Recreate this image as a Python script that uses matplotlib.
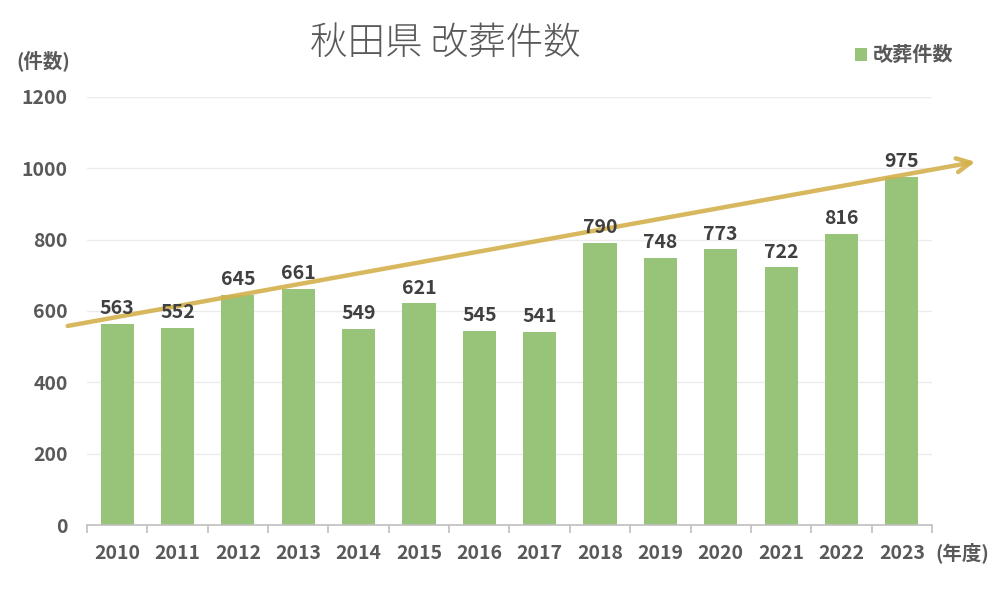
import matplotlib
matplotlib.use("Agg")
import matplotlib.pyplot as plt
import numpy as np

# data
years = ["2010", "2011", "2012", "2013", "2014", "2015", "2016",
         "2017", "2018", "2019", "2020", "2021", "2022", "2023"]
counts = [563, 552, 645, 661, 549, 621, 545, 541, 790, 748, 773, 722, 816, 975]
yticks = [0, 200, 400, 600, 800, 1000, 1200]

# trend arrow end points (category index, value)
arrow_start = (-0.82, 558)
arrow_end = (14.22, 1018)

BAR = "#98c479"
ARROW = "#d4b14c"
TXT = "#595959"
LBL = "#404040"

plt.rcParams["font.family"] = ["Noto Sans CJK JP", "DejaVu Sans"]

fig = plt.figure(figsize=(10, 5.98), dpi=100)
ax = fig.add_axes([0.087, 0.122, 0.845, 0.716])

x = np.arange(len(years))
ax.bar(x, counts, width=0.55, color=BAR, zorder=2, label="改葬件数")

for xi, v in zip(x, counts):
    ax.text(xi, v + 16, str(v), ha="center", va="bottom",
            fontsize=14, fontweight="bold", color=LBL, zorder=4)

ax.set_xlim(-0.5, len(years) - 0.5)
ax.set_ylim(0, 1200)
ax.set_yticks(yticks)
ax.set_yticklabels([str(t) for t in yticks], fontsize=14,
                   fontweight="bold", color=TXT)
ax.tick_params(axis="y", length=0, pad=14)
ax.set_xticks(x)
ax.set_xticklabels(years, fontsize=14, fontweight="bold", color=TXT)
ax.tick_params(axis="x", length=0, pad=14)
ax.set_xticks(np.arange(-0.5, len(years)), minor=True)
ax.tick_params(axis="x", which="minor", length=6, color="#bfbfbf", width=1.2)

ax.grid(axis="y", color="#ebebeb", linewidth=1, zorder=0)
for s in ["top", "right", "left"]:
    ax.spines[s].set_visible(False)
ax.spines["bottom"].set_color("#bfbfbf")
ax.spines["bottom"].set_linewidth(1.2)

ax.annotate("", xy=arrow_end, xytext=arrow_start, annotation_clip=False,
            arrowprops=dict(arrowstyle="->,head_length=1.0,head_width=0.5",
                            color=ARROW, lw=3.2, alpha=0.9,
                            shrinkA=0, shrinkB=0),
            zorder=3)

fig.text(0.445, 0.928, "秋田県 改葬件数", ha="center", va="center",
         fontsize=27, fontweight="light", color=TXT)
fig.text(0.043, 0.898, "(件数)", ha="center", va="center",
         fontsize=14, fontweight="bold", color=TXT)
fig.text(0.962, 0.075, "(年度)", ha="center", va="center",
         fontsize=14, fontweight="bold", color=TXT)

leg = ax.legend(loc="upper right", bbox_to_anchor=(1.047, 1.165),
                frameon=False, handlelength=0.6, handleheight=0.6,
                handletextpad=0.3, prop=dict(size=14.5, weight="bold"))
for t in leg.get_texts():
    t.set_color(TXT)

fig.savefig("out.png", dpi=100)
